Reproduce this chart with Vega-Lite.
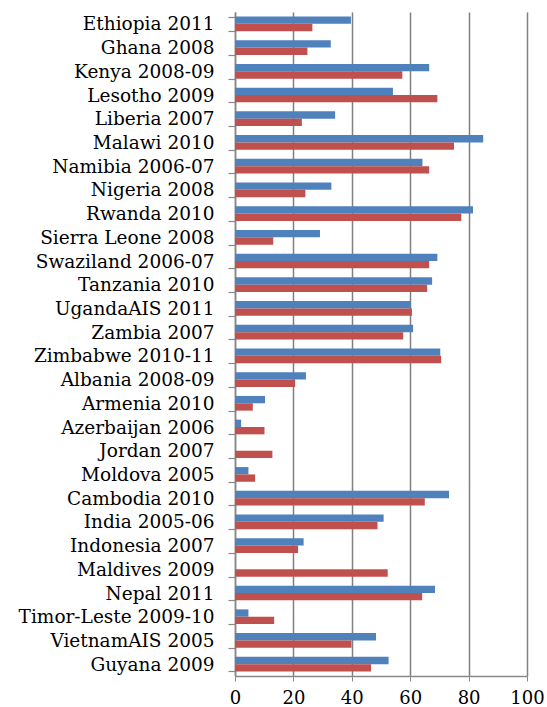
{
  "$schema": "https://vega.github.io/schema/vega-lite/v6.json",
  "autosize": "none",
  "width": 292,
  "height": 664,
  "padding": {"left": 235, "top": 12, "right": 20, "bottom": 31},
  "background": "white",
  "data": {"values": [
    {"country": "Ethiopia 2011", "series": "blue", "value": 39.7},
    {"country": "Ethiopia 2011", "series": "red", "value": 26.5},
    {"country": "Ghana 2008", "series": "blue", "value": 32.8},
    {"country": "Ghana 2008", "series": "red", "value": 24.8},
    {"country": "Kenya 2008-09", "series": "blue", "value": 66.5},
    {"country": "Kenya 2008-09", "series": "red", "value": 57.3},
    {"country": "Lesotho 2009", "series": "blue", "value": 54.1},
    {"country": "Lesotho 2009", "series": "red", "value": 69.3},
    {"country": "Liberia 2007", "series": "blue", "value": 34.3},
    {"country": "Liberia 2007", "series": "red", "value": 22.9},
    {"country": "Malawi 2010", "series": "blue", "value": 85.0},
    {"country": "Malawi 2010", "series": "red", "value": 75.0},
    {"country": "Namibia 2006-07", "series": "blue", "value": 64.2},
    {"country": "Namibia 2006-07", "series": "red", "value": 66.5},
    {"country": "Nigeria 2008", "series": "blue", "value": 33.0},
    {"country": "Nigeria 2008", "series": "red", "value": 24.1},
    {"country": "Rwanda 2010", "series": "blue", "value": 81.5},
    {"country": "Rwanda 2010", "series": "red", "value": 77.5},
    {"country": "Sierra Leone 2008", "series": "blue", "value": 29.1},
    {"country": "Sierra Leone 2008", "series": "red", "value": 13.1},
    {"country": "Swaziland 2006-07", "series": "blue", "value": 69.3},
    {"country": "Swaziland 2006-07", "series": "red", "value": 66.5},
    {"country": "Tanzania 2010", "series": "blue", "value": 67.5},
    {"country": "Tanzania 2010", "series": "red", "value": 65.8},
    {"country": "UgandaAIS 2011", "series": "blue", "value": 60.2},
    {"country": "UgandaAIS 2011", "series": "red", "value": 60.6},
    {"country": "Zambia 2007", "series": "blue", "value": 61.0},
    {"country": "Zambia 2007", "series": "red", "value": 57.6},
    {"country": "Zimbabwe 2010-11", "series": "blue", "value": 70.3},
    {"country": "Zimbabwe 2010-11", "series": "red", "value": 70.6},
    {"country": "Albania 2008-09", "series": "blue", "value": 24.3},
    {"country": "Albania 2008-09", "series": "red", "value": 20.6},
    {"country": "Armenia 2010", "series": "blue", "value": 10.3},
    {"country": "Armenia 2010", "series": "red", "value": 6.1},
    {"country": "Azerbaijan 2006", "series": "blue", "value": 2.1},
    {"country": "Azerbaijan 2006", "series": "red", "value": 10.1},
    {"country": "Jordan 2007", "series": "blue", "value": 0},
    {"country": "Jordan 2007", "series": "red", "value": 12.8},
    {"country": "Moldova 2005", "series": "blue", "value": 4.6},
    {"country": "Moldova 2005", "series": "red", "value": 6.9},
    {"country": "Cambodia 2010", "series": "blue", "value": 73.3},
    {"country": "Cambodia 2010", "series": "red", "value": 65.0},
    {"country": "India 2005-06", "series": "blue", "value": 50.9},
    {"country": "India 2005-06", "series": "red", "value": 48.8},
    {"country": "Indonesia 2007", "series": "blue", "value": 23.5},
    {"country": "Indonesia 2007", "series": "red", "value": 21.6},
    {"country": "Maldives 2009", "series": "blue", "value": 0},
    {"country": "Maldives 2009", "series": "red", "value": 52.3},
    {"country": "Nepal 2011", "series": "blue", "value": 68.5},
    {"country": "Nepal 2011", "series": "red", "value": 64.1},
    {"country": "Timor-Leste 2009-10", "series": "blue", "value": 4.6},
    {"country": "Timor-Leste 2009-10", "series": "red", "value": 13.4},
    {"country": "VietnamAIS 2005", "series": "blue", "value": 48.3},
    {"country": "VietnamAIS 2005", "series": "red", "value": 39.9},
    {"country": "Guyana 2009", "series": "blue", "value": 52.6},
    {"country": "Guyana 2009", "series": "red", "value": 46.6}
  ]},
  "mark": {"type": "bar"},
  "encoding": {
    "y": {
      "field": "country",
      "type": "nominal",
      "sort": null,
      "scale": {"paddingInner": 0.38, "paddingOuter": 0.19},
      "axis": {
        "title": null,
        "tickBand": "extent",
        "tickSize": 7,
        "tickColor": "#888888",
        "tickWidth": 1.2,
        "domainColor": "#888888",
        "domainWidth": 1.5,
        "labelFont": "DejaVu Serif",
        "labelFontSize": 18.5,
        "labelColor": "#000000",
        "labelPadding": 14,
        "labelLimit": 400,
        "grid": false
      }
    },
    "yOffset": {"field": "series", "type": "nominal", "sort": ["blue", "red"], "scale": {"domain": ["blue", "red"], "paddingInner": 0}},
    "x": {
      "field": "value",
      "type": "quantitative",
      "scale": {"domain": [0, 100], "nice": false},
      "axis": {
        "title": null,
        "values": [0, 20, 40, 60, 80, 100],
        "grid": true,
        "gridColor": "#808080",
        "gridWidth": 1.5,
        "gridOpacity": 1,
        "tickSize": 5,
        "tickColor": "#888888",
        "domainColor": "#888888",
        "domainWidth": 1.5,
        "labelFont": "DejaVu Serif",
        "labelFontSize": 18,
        "labelColor": "#000000",
        "labelPadding": 8,
        "labelFlush": false
      }
    },
    "color": {
      "field": "series",
      "type": "nominal",
      "scale": {"domain": ["blue", "red"], "range": ["#4F81BD", "#C0504D"]},
      "legend": null
    }
  },
  "config": {"view": {"stroke": null}}
}
